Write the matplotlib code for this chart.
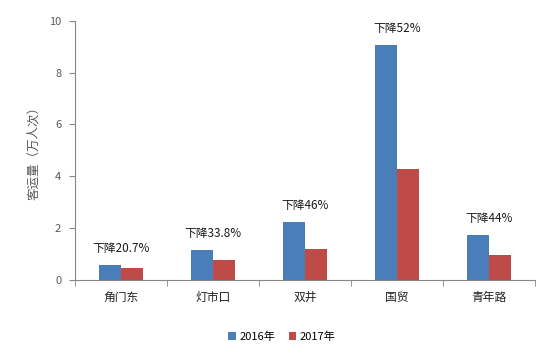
import numpy as np
import matplotlib.pyplot as plt

plt.rcParams['font.family'] = ['Noto Sans CJK SC', 'DejaVu Sans']

stations = ['角门东', '灯市口', '双井', '国贸', '青年路']
y2016 = [0.58, 1.16, 2.24, 9.07, 1.74]
y2017 = [0.46, 0.77, 1.20, 4.30, 0.96]
notes = ['下降20.7%', '下降33.8%', '下降46%', '下降52%', '下降44%']

blue = '#4a7ebb'
red = '#be4b48'
grey = '#595959'

fig = plt.figure(figsize=(5.52, 3.53), dpi=100)
ax = fig.add_axes([0.136, 0.207, 0.833, 0.734])

x = np.arange(len(stations))
w = 0.235
ax.bar(x - w / 2, y2016, w, color=blue, label='2016年')
ax.bar(x + w / 2, y2017, w, color=red, label='2017年')

for i, t in enumerate(notes):
    top = max(y2016[i], y2017[i])
    ax.text(x[i], top + 0.62, t, ha='center', va='center', fontsize=8.5, color='#1a1a1a')

ax.set_xlim(-0.5, len(stations) - 0.5)
ax.set_ylim(0, 10)
ax.set_yticks(range(0, 11, 2))
ax.set_xticks(x)
ax.set_xticklabels(stations, fontsize=8.5, color='#222222')
ax.set_xticks(np.arange(-0.5, len(stations)), minor=True)
ax.tick_params(axis='x', which='major', length=0, pad=8)
ax.tick_params(axis='x', which='minor', length=4, color='#868686', direction='out')
ax.tick_params(axis='y', length=4, color='#868686', labelcolor=grey, labelsize=8, pad=6)

for s in ['top', 'right']:
    ax.spines[s].set_visible(False)
ax.spines['left'].set_color('#868686')
ax.spines['bottom'].set_color('#868686')

ax.set_ylabel('客运量（万人次）', fontsize=9, color=grey, labelpad=6)

ax.legend(loc='upper center', bbox_to_anchor=(0.45, -0.16), ncol=2, frameon=False,
          fontsize=8, handlelength=0.7, handleheight=0.7, handletextpad=0.3,
          columnspacing=1.2)

fig.savefig('out.png', dpi=100)
